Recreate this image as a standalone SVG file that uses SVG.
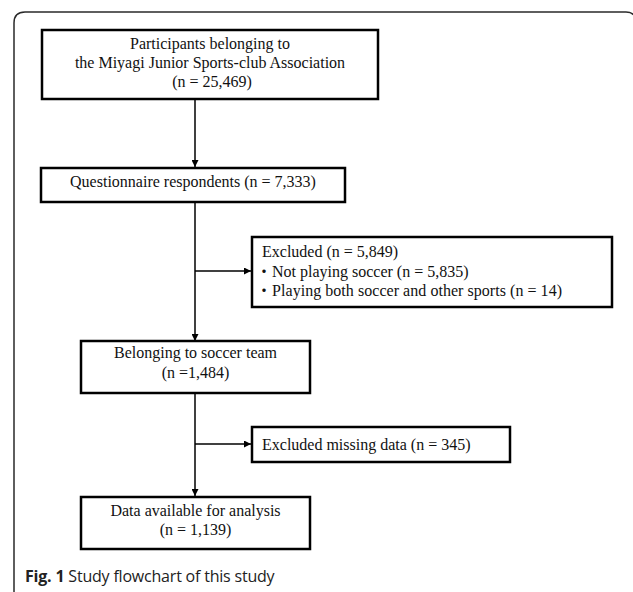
<svg xmlns="http://www.w3.org/2000/svg" width="633" height="592" viewBox="0 0 633 592">
<style>
.box{fill:#fff;stroke:#000;stroke-width:2.5}
.t{font-family:"Liberation Serif","Times New Roman","Noto Sans CJK JP",serif;font-size:16px;fill:#111}
.c{text-anchor:middle}
.ln{stroke:#000;stroke-width:1.5;fill:none}
.cap{font-family:"Open Sans","Noto Sans",sans-serif;font-size:16px;letter-spacing:-0.2px;fill:#222}
</style>
<defs>
<marker id="ah" viewBox="0 0 10 10" refX="10" refY="5" markerWidth="7" markerHeight="7" markerUnits="userSpaceOnUse" orient="auto">
<path d="M0,0 L10,5 L0,10 z" fill="#000"/>
</marker>
</defs>
<rect x="0" y="0" width="633" height="592" fill="#fff"/>
<path d="M14,594 V23 Q14,12 25,12 H626 Q633,12 636,18" fill="none" stroke="#2a2a2a" stroke-width="1.5"/>
<g id="connectors">
<line class="ln" x1="195" y1="99" x2="195" y2="167" marker-end="url(#ah)"/>
<line class="ln" x1="195" y1="202" x2="195" y2="341" marker-end="url(#ah)"/>
<line class="ln" x1="195" y1="271" x2="251" y2="271" marker-end="url(#ah)"/>
<line class="ln" x1="195" y1="393" x2="195" y2="496" marker-end="url(#ah)"/>
<line class="ln" x1="195" y1="444" x2="251" y2="444" marker-end="url(#ah)"/>
</g>
<g id="n1">
<rect class="box" x="42" y="30" width="336" height="69"/>
<text class="t c" x="210" y="49">Participants belonging to</text>
<text class="t c" x="210" y="68">the Miyagi Junior Sports-club Association</text>
<text class="t c" x="212" y="87">(n = 25,469)</text>
</g>
<g id="n2">
<rect class="box" x="41" y="168" width="304" height="34"/>
<text class="t c" x="193" y="187">Questionnaire respondents (n = 7,333)</text>
</g>
<g id="n3">
<rect class="box" x="252" y="237" width="360" height="70"/>
<text class="t" x="262" y="257">Excluded (n = 5,849)</text>
<text class="t" x="256" y="277">・Not playing soccer (n = 5,835)</text>
<text class="t" x="256" y="296" textLength="306">・Playing both soccer and other sports (n = 14)</text>
</g>
<g id="n4">
<rect class="box" x="81" y="341" width="229" height="52"/>
<text class="t c" x="195.5" y="358">Belonging to soccer team</text>
<text class="t c" x="195.5" y="378">(n =1,484)</text>
</g>
<g id="n5">
<rect class="box" x="252" y="427" width="258" height="35"/>
<text class="t" x="262" y="450">Excluded missing data (n = 345)</text>
</g>
<g id="n6">
<rect class="box" x="81" y="497" width="229" height="52"/>
<text class="t c" x="195.5" y="516">Data available for analysis</text>
<text class="t c" x="195.5" y="535">(n = 1,139)</text>
</g>
<text class="cap" x="25" y="582"><tspan font-weight="bold">Fig. 1</tspan> Study flowchart of this study</text>
</svg>
